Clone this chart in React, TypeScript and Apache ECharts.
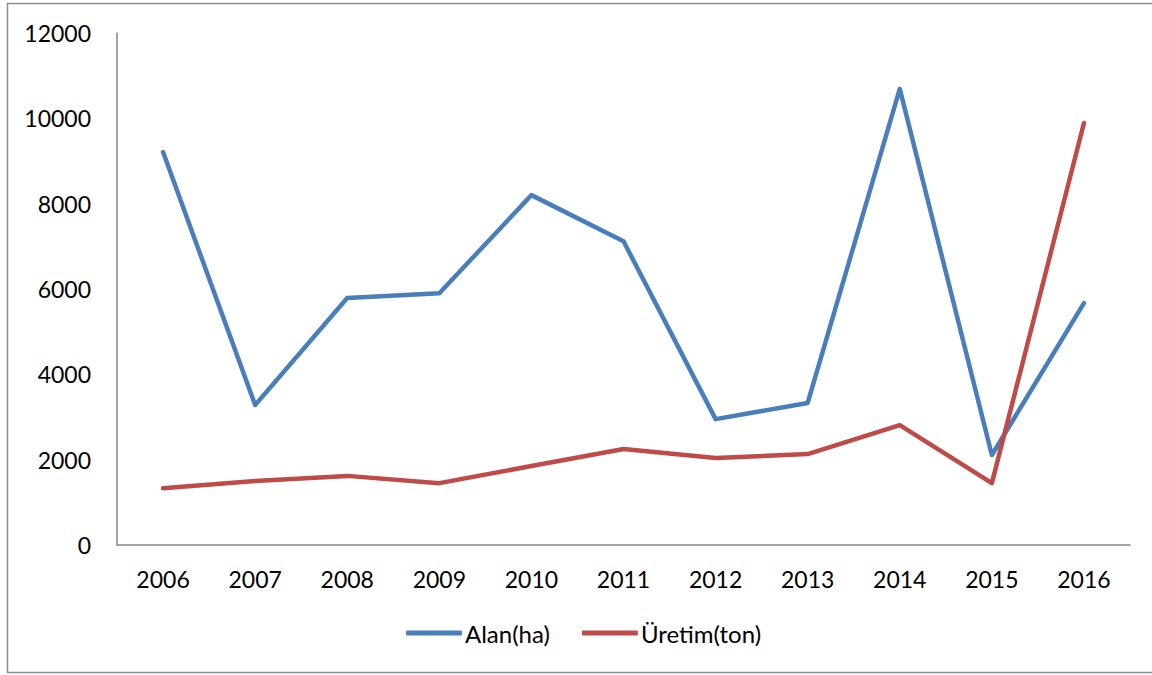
import React, { useEffect, useRef } from "react";
import * as echarts from "echarts";

const years = ["2006", "2007", "2008", "2009", "2010", "2011", "2012", "2013", "2014", "2015", "2016"];
const alan = [9210, 3280, 5790, 5900, 8200, 7120, 2950, 3330, 10690, 2110, 5670];
const uretim = [1330, 1500, 1620, 1450, 1850, 2250, 2040, 2130, 2810, 1450, 9890];

export default function App() {
  const ref = useRef<HTMLDivElement>(null);
  useEffect(() => {
    const chart = echarts.init(ref.current!, null, { renderer: "svg" });
    const font = "Lato, 'Open Sans', sans-serif";
    chart.setOption({
      animation: false,
      backgroundColor: "#ffffff",
      grid: { left: 117, right: 22, top: 33, bottom: 130 },
      legend: {
        top: 616,
        left: 401,
        itemWidth: 56,
        itemHeight: 5,
        itemGap: 32,
        icon: "roundRect",
        textStyle: { fontFamily: font, fontSize: 24, color: "#000", padding: [0, 0, 0, -2] },
        data: ["Alan(ha)", "Üretim(ton)"],
      },
      xAxis: {
        type: "category",
        data: years,
        boundaryGap: true,
        axisLine: { lineStyle: { color: "#868686", width: 1.5 } },
        axisTick: { show: false },
        axisLabel: { fontFamily: font, fontSize: 23, color: "#000", margin: 22 },
      },
      yAxis: {
        type: "value",
        min: 0,
        max: 12000,
        interval: 2000,
        axisLine: { show: true, lineStyle: { color: "#868686", width: 1.5 } },
        axisTick: { show: false },
        splitLine: { show: false },
        axisLabel: {
          fontFamily: font,
          fontSize: 23,
          color: "#000",
          margin: 26,
          formatter: (v: number) => String(v),
        },
      },
      series: [
        {
          name: "Alan(ha)",
          type: "line",
          data: alan,
          symbol: "none",
          color: "#4a7ebb",
          lineStyle: { width: 4.5, color: "#4a7ebb", cap: "round", join: "round" },
        },
        {
          name: "Üretim(ton)",
          type: "line",
          data: uretim,
          symbol: "none",
          color: "#be4b48",
          lineStyle: { width: 4.5, color: "#be4b48", cap: "round", join: "round" },
        },
      ],
      graphic: [
        {
          type: "rect",
          shape: { x: 7.5, y: 3.5, width: 1160, height: 669 },
          style: { fill: "none", stroke: "#8c8c8c", lineWidth: 1.5 },
          silent: true,
        },
      ],
    });
    return () => chart.dispose();
  }, []);
  return (
    <div
      ref={ref}
      style={{ position: "fixed", left: 0, top: 0, width: 1152, height: 675 }}
    />
  );
}
